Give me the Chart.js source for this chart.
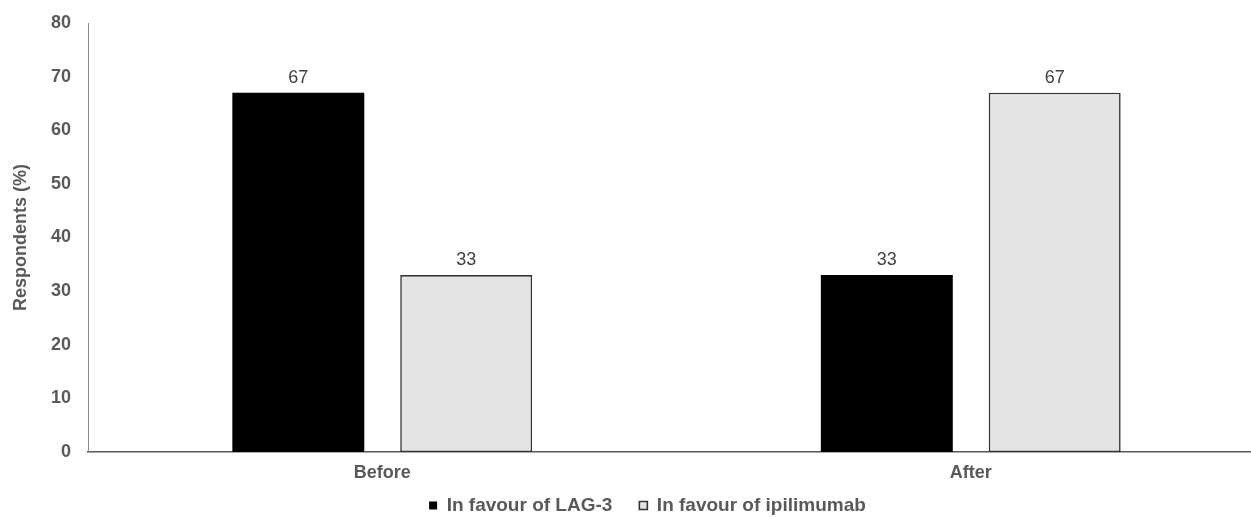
<!DOCTYPE html>
<html>
<head>
<meta charset="utf-8">
<script src="https://cdn.jsdelivr.net/npm/chart.js@4/dist/chart.umd.min.js"></script>
<style>
  html, body { margin: 0; padding: 0; background: #fff; overflow: hidden; }
  #wrap { width: 1251px; height: 517px; overflow: hidden; position: relative; }
  canvas { display: block; }
</style>
</head>
<body>
<div id="wrap"><canvas id="c" width="1265" height="525"></canvas></div>
<script>
const categories = ["Before", "After"];
const seriesNames = ["In favour of LAG-3", "In favour of ipilimumab"];
const lag3Values = [67, 33];
const ipiValues = [33, 67];
const yTicks = [0, 10, 20, 30, 40, 50, 60, 70, 80];

const FONT = '"Liberation Sans", Arial, sans-serif';

const valueLabels = {
  id: 'valueLabels',
  afterDatasetsDraw(chart) {
    const ctx = chart.ctx;
    ctx.save();
    ctx.font = '18px ' + FONT;
    ctx.fillStyle = '#404040';
    ctx.textAlign = 'center';
    ctx.textBaseline = 'bottom';
    chart.data.datasets.forEach((ds, di) => {
      const meta = chart.getDatasetMeta(di);
      meta.data.forEach((bar, i) => {
        ctx.fillText(String(ds.data[i]), bar.x, bar.y - 6);
      });
    });
    ctx.restore();
  }
};

new Chart(document.getElementById('c'), {
  type: 'bar',
  data: {
    labels: categories,
    datasets: [
      {
        label: seriesNames[0],
        data: lag3Values,
        backgroundColor: '#000000',
        borderColor: '#000000',
        borderWidth: 0,
        categoryPercentage: 0.5705,
        barPercentage: 0.786
      },
      {
        label: seriesNames[1],
        data: ipiValues,
        backgroundColor: '#e4e4e4',
        borderColor: '#333333',
        borderWidth: 1.6,
        borderSkipped: false,
        categoryPercentage: 0.5705,
        barPercentage: 0.786
      }
    ]
  },
  options: {
    responsive: false,
    animation: false,
    devicePixelRatio: 1,
    layout: { padding: { left: 30, right: 0, top: 23, bottom: 0 } },
    plugins: {
      tooltip: { enabled: false },
      legend: {
        display: true,
        position: 'bottom',
        labels: {
          boxWidth: 8,
          boxHeight: 8,
          padding: 27,
          color: '#595959',
          font: { family: FONT, size: 19, weight: 'bold' }
        }
      }
    },
    scales: {
      x: {
        grid: { display: false, drawTicks: false },
        border: { display: true, color: '#595959', width: 1.5 },
        ticks: {
          color: '#595959',
          mirror: true,
          padding: -32,
          font: { family: FONT, size: 18, weight: 'bold' }
        },
        afterFit(scale) { scale.height = 17; scale.paddingLeft = 0; scale.paddingRight = 0; }
      },
      y: {
        min: 0,
        max: 80,
        afterBuildTicks(scale) { scale.ticks = yTicks.map(v => ({ value: v })); },
        grid: { display: false, drawTicks: false },
        border: { display: true, color: '#8c8c8c', width: 1 },
        ticks: {
          color: '#595959',
          padding: 17,
          font: { family: FONT, size: 18, weight: 'bold' }
        },
        title: {
          display: true,
          text: 'Respondents (%)',
          color: '#595959',
          padding: { top: -20, bottom: 0 },
          font: { family: FONT, size: 18, weight: 'bold' }
        },
        afterFit(scale) { scale.width = 58; scale.paddingTop = 0; scale.paddingBottom = 0; }
      }
    }
  },
  plugins: [valueLabels]
});
</script>
</body>
</html>
